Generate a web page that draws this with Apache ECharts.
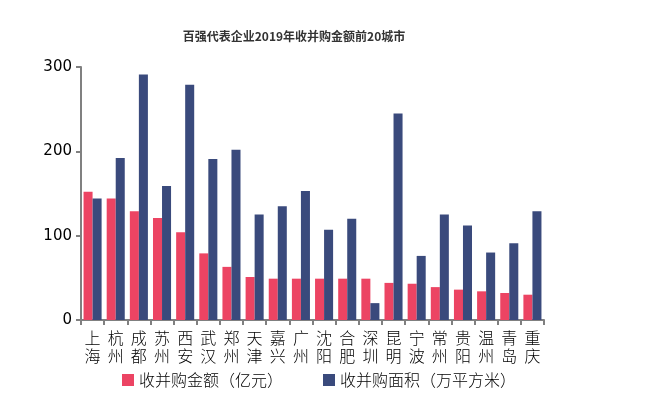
<!DOCTYPE html>
<html><head><meta charset="utf-8">
<script src="https://cdn.jsdelivr.net/npm/echarts@6/dist/echarts.min.js"></script>
<style>html,body{margin:0;padding:0;background:#fff}#c{width:647px;height:418px}</style>
</head><body><div id="c"></div>
<script>
const cities = ['上海','杭州','成都','苏州','西安','武汉','郑州','天津','嘉兴','广州','沈阳','合肥','深圳','昆明','宁波','常州','贵阳','温州','青岛','重庆'];
const amount = [152,144,129,121,104,79,63,51,49,49,49,49,49,44,43,39,36,34,32,30];
const area = [144,192,291,159,279,191,202,125,135,153,107,120,20,245,76,125,112,80,91,129];
const yTicks = [0,100,200,300];

const chart = echarts.init(document.getElementById('c'), null, {renderer:'canvas'});
chart.setOption({
  animation:false,
  title:{text:'百强代表企业2019年收并购金额前20城市', left:294, top:30, textAlign:'center', padding:0,
    textStyle:{fontSize:12, fontWeight:'bold', color:'#333', fontFamily:'Noto Sans CJK SC'}},
  legend:{left:122, top:372, padding:0, itemWidth:12, itemHeight:12, itemGap:40,
    icon:'rect',
    textStyle:{fontSize:16, color:'#000', fontWeight:300, fontFamily:'Noto Sans CJK SC'},
    data:['收并购金额（亿元）','收并购面积（万平方米）']},
  grid:{left:81, right:103, top:67, bottom:98, containLabel:false},
  xAxis:{type:'category', data:cities,
    axisLine:{lineStyle:{color:'#808080', width:2}},
    axisTick:{show:true, length:5, lineStyle:{color:'#808080', width:2}},
    axisLabel:{interval:0, fontSize:16, color:'#000', lineHeight:18, margin:9, fontWeight:300,
      fontFamily:'Noto Sans CJK SC',
      formatter:v=>v.split('').join('\n')}},
  yAxis:{type:'value', min:0, max:300, interval:100,
    axisLine:{show:true, lineStyle:{color:'#808080', width:2}},
    axisTick:{show:true, length:5, lineStyle:{color:'#808080', width:2}},
    splitLine:{show:false},
    axisLabel:{fontSize:15, color:'#000', margin:9, fontFamily:'DejaVu Sans',
      formatter:v=>yTicks.includes(v)?String(v):''}},
  series:[
    {name:'收并购金额（亿元）', type:'bar', data:amount, barGap:'0%', barCategoryGap:'22%',
      itemStyle:{color:'#EC4463'}},
    {name:'收并购面积（万平方米）', type:'bar', data:area, barGap:'0%', barCategoryGap:'22%',
      itemStyle:{color:'#3A4A7C'}}
  ]
});
</script></body></html>
